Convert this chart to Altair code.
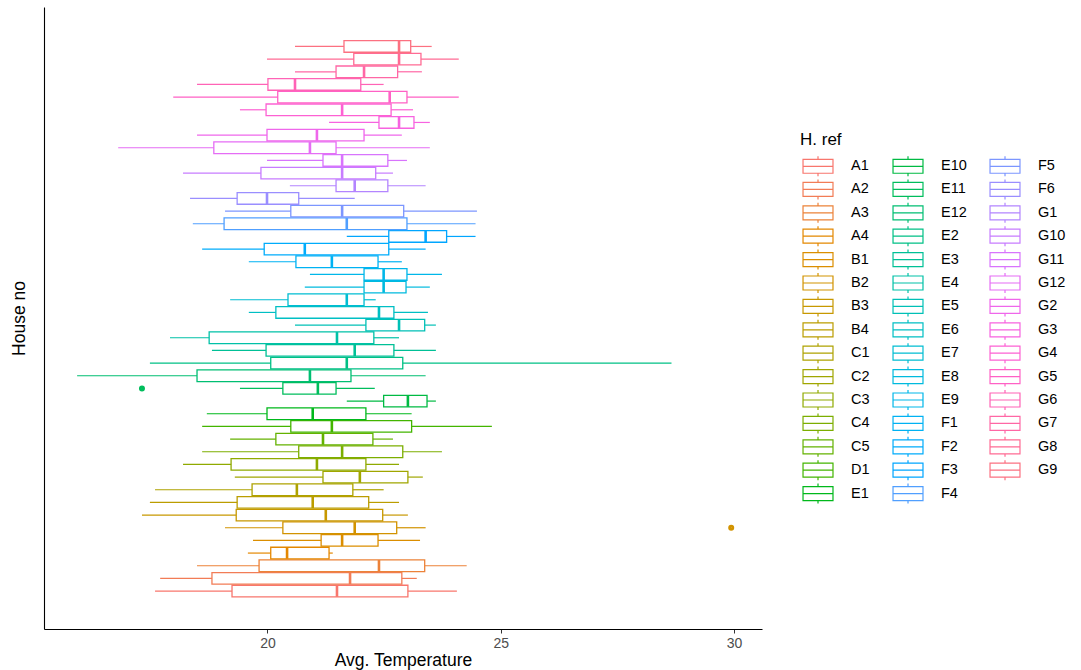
import math
import altair as alt
import pandas as pd

# House references, in factor order (A1 is drawn at the bottom)
houses = ["A1", "A2", "A3", "A4", "B1", "B2", "B3", "B4", "C1", "C2", "C3", "C4", "C5", "D1",
          "E1", "E10", "E11", "E12", "E2", "E3", "E4", "E5", "E6", "E7", "E8", "E9",
          "F1", "F2", "F3", "F4", "F5", "F6", "G1", "G10", "G11", "G12",
          "G2", "G3", "G4", "G5", "G6", "G7", "G8", "G9"]

# Box statistics of average temperature per house
lower_whisker = [17.59, 17.70, 18.49, 19.58, 19.69, 19.09, 17.31, 17.48, 17.59, 19.30, 18.19, 18.60, 19.20, 18.60,
                 18.70, 21.70, 19.41, 15.92, 17.48, 18.81, 17.91, 20.59, 19.60, 19.20, 20.80, 20.91,
                 19.60, 18.60, 21.70, 18.40, 19.09, 18.34, 20.48, 18.19, 19.99, 16.80,
                 18.49, 21.32, 19.41, 17.98, 18.49, 20.59, 19.99, 20.59]
q1 = [19.24, 18.81, 19.82, 20.07, 21.15, 20.33, 19.33, 19.35, 19.67, 21.19, 19.22, 20.67, 20.18, 20.50,
      19.99, 22.49, 20.33, 18.49, 20.07, 19.97, 18.75, 22.11, 20.18, 20.44, 22.07, 22.07,
      20.61, 19.93, 22.60, 19.07, 20.50, 19.35, 21.47, 19.86, 21.19, 18.85,
      19.99, 22.39, 19.97, 20.22, 20.01, 21.47, 21.85, 21.64]
median = [21.49, 21.77, 22.39, 20.42, 21.60, 21.87, 21.25, 20.97, 20.63, 21.98, 21.06, 21.60, 21.19, 21.38,
          20.97, 23.01, 21.08, 20.91, 21.70, 21.87, 21.49, 22.82, 22.39, 21.70, 22.49, 22.49,
          21.38, 20.80, 23.39, 21.70, 21.60, 19.99, 21.87, 21.60, 21.60, 20.91,
          21.06, 22.82, 21.60, 22.62, 20.59, 22.07, 22.82, 22.82]
q3 = [23.01, 22.88, 23.37, 21.32, 22.37, 22.77, 22.47, 22.17, 21.83, 23.01, 22.11, 22.90, 22.26, 23.09,
      22.11, 23.42, 21.47, 21.79, 22.90, 22.71, 22.28, 23.37, 22.71, 22.07, 22.97, 22.99,
      22.37, 22.60, 23.84, 22.99, 22.92, 20.67, 22.58, 22.32, 22.58, 21.47,
      22.07, 23.14, 22.65, 22.99, 22.00, 22.79, 23.29, 23.07]
upper_whisker = [24.06, 23.20, 24.27, 21.40, 23.27, 23.39, 23.01, 22.82, 22.49, 23.33, 22.82, 23.74, 22.69, 24.81,
                 23.09, 23.61, 22.30, 23.39, 28.66, 23.61, 22.82, 23.61, 23.44, 22.32, 23.48, 23.74,
                 22.88, 23.39, 24.46, 24.46, 24.49, 21.87, 23.39, 22.69, 22.99, 23.48,
                 22.88, 23.48, 23.12, 24.10, 22.49, 23.31, 24.10, 23.52]

# Outlying observations
outlier_house = ["B2", "E11"]
outlier_value = [29.94, 17.31]

FONT = "Liberation Sans"
BOX_HALF = 0.45  # half box thickness, in category units


def hue_colour(h, c=100.0, l=65.0):
    """Polar-Luv (HCL) colour to an sRGB hex string."""
    white_y, white_u, white_v = 100.0, 0.1978398, 0.4683363
    u_ = c * math.cos(math.radians(h))
    v_ = c * math.sin(math.radians(h))
    y = white_y * (((l + 16) / 116) ** 3 if l > 7.999592 else l / 903.3)
    u = u_ / (13 * l) + white_u
    v = v_ / (13 * l) + white_v
    x = 9.0 * y * u / (4 * v)
    z = -x / 3 - 5 * y + 3 * y / v

    def gam(t):
        return 1.055 * t ** (1 / 2.4) - 0.055 if t > 0.00304 else 12.92 * t

    rgb = [gam((3.240479 * x - 1.537150 * y - 0.498535 * z) / white_y),
           gam((-0.969256 * x + 1.875992 * y + 0.041556 * z) / white_y),
           gam((0.055648 * x - 0.204043 * y + 1.057311 * z) / white_y)]
    return "#" + "".join(f"{int(round(min(max(ch, 0), 1) * 255)):02X}" for ch in rgb)


n = len(houses)
colours = [hue_colour(15 + i * 360 / n) for i in range(n)]
position = {hname: i + 1 for i, hname in enumerate(houses)}

stats = pd.DataFrame({
    "house": houses, "lw": lower_whisker, "q1": q1, "med": median, "q3": q3, "uw": upper_whisker,
})
stats["pos"] = stats["house"].map(position)
stats["lo"] = stats["pos"] - BOX_HALF
stats["hi"] = stats["pos"] + BOX_HALF
outliers = pd.DataFrame({"house": outlier_house, "value": outlier_value})
outliers["pos"] = outliers["house"].map(position)

y_scale = alt.Scale(domain=[-1.60, 46.72], nice=False, zero=False)
y_axis = alt.Axis(title="House no", labels=False, ticks=False, grid=False, domainColor="black",
                  domainWidth=1.1, titleFont=FONT, titleFontSize=17.5, titleFontWeight="normal",
                  titleColor="black", titlePadding=16)
x_scale = alt.Scale(domain=[15.21, 30.6], nice=False, zero=False)
x_axis = alt.Axis(values=[20, 25, 30], title="Avg. Temperature", grid=False, domainColor="black",
                  domainWidth=1.1, tickColor="#333333", tickSize=4, labelColor="#4D4D4D",
                  labelFont=FONT, labelFontSize=14, labelPadding=3, titleFont=FONT, titleFontSize=17.5,
                  titleFontWeight="normal", titleColor="black", titlePadding=1)

# legend key: a small box with a centre line and whisker stubs
box_symbol = ("M-0.78,-0.78H2.57V0.78H-0.78Z M-0.78,0H2.57 "
              "M0.895,-0.78V-1.12 M0.895,0.78V1.12")
stroke_enc = alt.Stroke(
    "house:N",
    scale=alt.Scale(domain=houses, range=colours),
    legend=alt.Legend(title="H. ref", orient="none", legendX=756, legendY=125, columns=3,
                      symbolType=box_symbol, symbolSize=320, symbolStrokeWidth=1.2,
                      symbolFillColor="white", symbolLimit=60, labelOffset=31, columnPadding=20,
                      rowPadding=-2.6, titlePadding=7, labelFont=FONT, labelFontSize=14.5,
                      labelColor="black", titleFont=FONT, titleFontSize=17, titleFontWeight="normal",
                      titleColor="black"),
)

# outlined boxes; whiskers run from each hinge outwards
boxes = alt.Chart(stats).mark_bar(filled=False, strokeWidth=1.3, size=11.6, orient="horizontal").encode(
    x=alt.X("q1:Q", scale=x_scale, axis=x_axis), x2="q3:Q",
    y=alt.Y("pos:Q", scale=y_scale, axis=y_axis), stroke=stroke_enc)
low_whiskers = alt.Chart(stats).mark_rule(strokeWidth=1.2).encode(
    x=alt.X("lw:Q", scale=x_scale, axis=x_axis), x2="q1:Q",
    y=alt.Y("pos:Q", scale=y_scale, axis=y_axis), stroke=stroke_enc)
high_whiskers = alt.Chart(stats).mark_rule(strokeWidth=1.2).encode(
    x=alt.X("q3:Q", scale=x_scale, axis=x_axis), x2="uw:Q",
    y=alt.Y("pos:Q", scale=y_scale, axis=y_axis), stroke=stroke_enc)
medians = alt.Chart(stats).mark_rule(strokeWidth=2.6).encode(
    x=alt.X("med:Q", scale=x_scale, axis=x_axis),
    y=alt.Y("lo:Q", scale=y_scale, axis=y_axis), y2="hi:Q", stroke=stroke_enc)
points = alt.Chart(outliers).mark_point(filled=False, shape="circle", size=8, strokeWidth=3.2,
                                        opacity=1).encode(
    x=alt.X("value:Q", scale=x_scale, axis=x_axis),
    y=alt.Y("pos:Q", scale=y_scale, axis=y_axis), stroke=stroke_enc)

chart = alt.layer(boxes, low_whiskers, high_whiskers, medians, points).properties(
    width=718, height=622,
    padding={"left": 44, "top": 7, "right": 319, "bottom": 41},
    autosize=alt.AutoSizeParams(type="none"),
    background="white",
).configure_view(strokeWidth=0)

chart.save("out.html", embed_options={"renderer": "svg", "actions": False})
